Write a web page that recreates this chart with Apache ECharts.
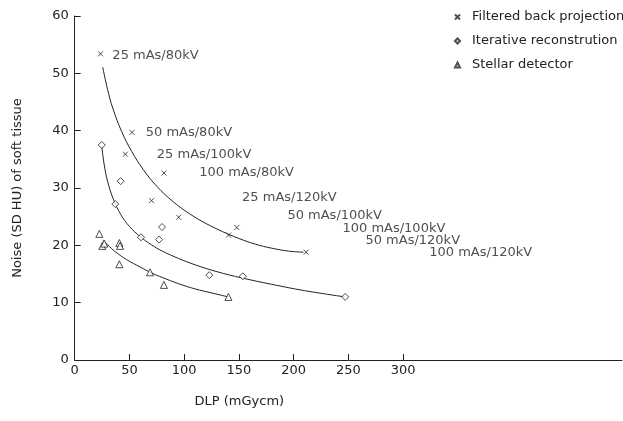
<!DOCTYPE html>
<html>
<head>
<meta charset="utf-8">
<title>Noise vs DLP</title>
<script src="https://cdn.jsdelivr.net/npm/echarts@6/dist/echarts.min.js"></script>
<style>
    html, body {margin: 0; padding: 0; background: #fff;}
    #main {width: 623px; height: 421px;}
</style>
</head>
<body>
<div id="main"></div>
<script>
    // measured points [DLP, noise]
    var fbpPoints = [[23.6, 53.4], [52.4, 39.7], [46.3, 35.9], [81.6, 32.6], [70.2, 27.8], [95, 24.9], [140.6, 21.8], [148.1, 23.1], [211.4, 18.8]];
    var irPoints = [[24.7, 37.5], [42, 31.2], [37.1, 27.2], [60.6, 21.4], [77.1, 21.0], [79.8, 23.2], [123, 14.8], [153.6, 14.6], [247.1, 11.0]];
    var stellarPoints = [[22.5, 22.0], [25.2, 19.9], [27.0, 20.3], [40.8, 20.4], [41.4, 19.9], [40.8, 16.7], [68.8, 15.3], [81.5, 13.1], [140.4, 11.0]];

    // fitted curves
    var fbpCurve = [[25.6, 51.1], [30, 47.2], [35, 43.8], [43, 39.8], [52, 36.4], [62.7, 33.2], [75, 30.3], [90, 27.6], [105, 25.5], [120, 23.8], [135, 22.4], [150, 21.2], [165, 20.2], [180, 19.5], [195, 19.0], [209, 18.8]];
    var irCurve = [[24.7, 37.3], [27, 34], [30, 31.2], [35, 28.2], [42, 25.4], [50, 23.3], [60, 21.5], [70, 20.1], [80, 19.0], [95, 17.7], [110, 16.6], [130, 15.4], [153, 14.3], [180, 13.2], [210, 12.1], [247, 11.0]];
    var stellarCurve = [[25.6, 20.9], [30, 20.1], [37, 18.9], [47.5, 17.5], [60, 16.2], [70, 15.2], [80, 14.4], [95, 13.3], [110, 12.4], [125, 11.7], [140.4, 11.0]];

    // protocol labels [x of left edge, y]
    var protocolNames = ['25 mAs/80kV', '50 mAs/80kV', '25 mAs/100kV', '100 mAs/80kV', '25 mAs/120kV', '50 mAs/100kV', '100 mAs/100kV', '50 mAs/120kV', '100 mAs/120kV'];
    var protocolPos = [[34.4, 53.1], [64.9, 39.6], [75.0, 35.9], [113.8, 32.6], [152.9, 28.3], [194.3, 25.1], [244.6, 23.0], [265.6, 20.9], [323.9, 18.8]];

    var xTicks = [0, 50, 100, 150, 200, 250, 300];
    var legendNames = ['Filtered back projection', 'Iterative reconstrution', 'Stellar detector'];

    var ink = '#222';
    var font = 'Verdana, "DejaVu Sans", sans-serif';
    var crossSymbol = 'path://M0,0L10,10M10,0L0,10';

    var chart = echarts.init(document.getElementById('main'));

    function curveSeries(data) {
        return {
            type: 'line',
            data: data,
            smooth: 0.4,
            symbol: 'none',
            silent: true,
            lineStyle: {color: ink, width: 1},
            z: 1
        };
    }

    var labelData = protocolPos.map(function (p, i) {
        return {name: protocolNames[i], value: p};
    });

    chart.setOption({
        animation: false,
        textStyle: {fontFamily: font, color: ink},
        legend: {
            data: legendNames,
            orient: 'vertical',
            left: 449,
            top: 5,
            itemWidth: 5,
            itemHeight: 5,
            itemGap: 10,
            textStyle: {fontSize: 13, color: ink, lineHeight: 14, padding: [0, 0, 0, 7]}
        },
        grid: {left: 74.7, right: 1, top: 16, bottom: 61},
        xAxis: {
            type: 'value',
            min: 0,
            max: 500,
            interval: 50,
            name: 'DLP (mGycm)',
            nameLocation: 'middle',
            nameGap: 35,
            nameTextStyle: {fontSize: 13, color: ink, padding: [0, 218, 0, 0]},
            axisLine: {lineStyle: {color: ink, width: 1}},
            axisTick: {inside: true, length: 6, customValues: xTicks, lineStyle: {color: ink}},
            axisLabel: {fontSize: 13, color: ink, margin: 4, customValues: xTicks},
            splitLine: {show: false}
        },
        yAxis: {
            type: 'value',
            min: 0,
            max: 60,
            interval: 10,
            name: 'Noise (SD HU) of soft tissue',
            nameLocation: 'middle',
            nameGap: 51,
            nameTextStyle: {fontSize: 13, color: ink},
            axisLine: {show: true, lineStyle: {color: ink, width: 1}},
            axisTick: {show: true, inside: true, length: 6, lineStyle: {color: ink}},
            axisLabel: {fontSize: 13, color: ink, margin: 6},
            splitLine: {show: false}
        },
        series: [
            curveSeries(fbpCurve),
            curveSeries(irCurve),
            curveSeries(stellarCurve),
            {
                name: legendNames[0],
                type: 'scatter',
                data: fbpPoints,
                symbol: crossSymbol,
                symbolSize: 5,
                itemStyle: {color: 'rgba(0,0,0,0)', borderColor: ink, borderWidth: 1},
                z: 3
            },
            {
                name: legendNames[1],
                type: 'scatter',
                data: irPoints,
                symbol: 'diamond',
                symbolSize: 7,
                itemStyle: {color: '#fff', borderColor: ink, borderWidth: 1},
                z: 3
            },
            {
                name: legendNames[2],
                type: 'scatter',
                data: stellarPoints,
                symbol: 'triangle',
                symbolSize: 7,
                itemStyle: {color: '#fff', borderColor: ink, borderWidth: 1},
                z: 3
            },
            {
                // text annotations only
                type: 'scatter',
                data: labelData,
                symbolSize: 0,
                silent: true,
                label: {
                    show: true,
                    position: 'right',
                    distance: 0,
                    formatter: '{b}',
                    fontSize: 13,
                    fontFamily: font,
                    color: ink
                },
                z: 2
            }
        ]
    });
</script>
</body>
</html>
